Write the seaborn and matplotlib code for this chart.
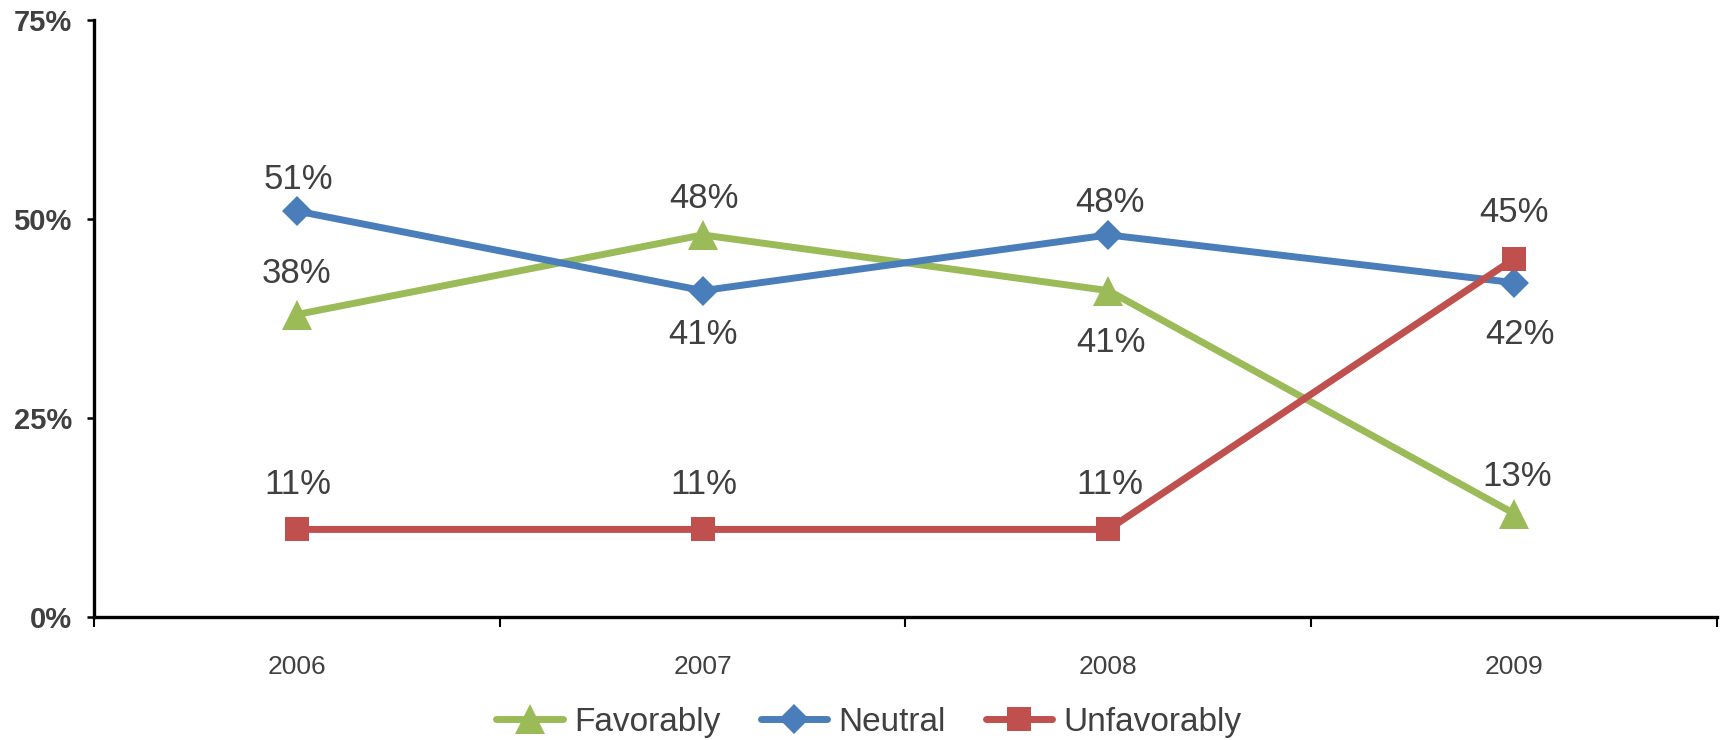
import matplotlib
matplotlib.use("Agg")
import matplotlib.pyplot as plt
from matplotlib import font_manager
from matplotlib.ticker import FixedLocator, FuncFormatter
import seaborn as sns
import pandas as pd

years = ["2006", "2007", "2008", "2009"]
favorably = [38, 48, 41, 13]
neutral = [51, 41, 48, 42]
unfavorably = [11, 11, 11, 45]
series_names = ["Favorably", "Neutral", "Unfavorably"]
y_ticks = [0, 25, 50, 75]

# value-label offsets from each point, in points (dx, dy)
label_offset = {
    "Favorably": [(0, 29.5), (1, 26.5), (2, -37.5), (2, 26.5)],
    "Neutral": [(1, 22.5), (0, -31.5), (1, 23), (4, -37.5)],
    "Unfavorably": [(1, 32.5), (1, 32.5), (1, 32.5), (0, 33.5)],
}

colors = {"Favorably": "#9BBB59", "Neutral": "#4A7EBB", "Unfavorably": "#C0504D"}
markers = {"Favorably": "^", "Neutral": "D", "Unfavorably": "s"}
sizes = {"Favorably": 21, "Neutral": 15, "Unfavorably": 17}
text_color = "#404040"
line_w = 5.0

sns.set_theme(style="white")
available = {f.name for f in font_manager.fontManager.ttflist}
base_font = "Liberation Sans" if "Liberation Sans" in available else "DejaVu Sans"
narrow_font = "Liberation Sans Narrow" if "Liberation Sans Narrow" in available else base_font
plt.rcParams["font.family"] = [base_font, "DejaVu Sans"]

df = pd.DataFrame({
    "x": list(range(len(years))) * 3,
    "value": favorably + neutral + unfavorably,
    "series": [s for s in series_names for _ in years],
})

fig = plt.figure(figsize=(17.24, 7.40), dpi=100)
ax = fig.add_axes([94 / 1724, 1 - 617 / 740, (1717 - 94) / 1724, (617 - 20) / 740])

sns.lineplot(
    data=df, x="x", y="value", hue="series", style="series",
    palette=colors, markers=markers, dashes=False, ax=ax,
    linewidth=line_w, legend="auto",
)
for data_line, name in zip(ax.get_lines()[:3], series_names):
    data_line.set_markersize(sizes[name])
    data_line.set_markeredgewidth(0)

# value labels
for name, vals in zip(series_names, [favorably, neutral, unfavorably]):
    for i, v in enumerate(vals):
        dx, dy = label_offset[name][i]
        ax.annotate(f"{v}%", (i, v), xytext=(dx, dy), textcoords="offset points",
                    ha="center", va="center", fontsize=25, color=text_color)

ax.set_xlim(-0.5, len(years) - 0.5)
ax.set_ylim(0, 75)
ax.set_xlabel("")
ax.set_ylabel("")

ax.yaxis.set_major_locator(FixedLocator(y_ticks))
ax.yaxis.set_major_formatter(FuncFormatter(lambda v, p: f"{int(v)}%"))
ax.tick_params(axis="y", which="major", left=True, length=5, width=1.8,
               color="black", pad=11, labelsize=21, labelcolor=text_color)
for t in ax.get_yticklabels():
    t.set_fontweight("bold")

ax.set_xticks(range(len(years)))
ax.set_xticklabels(years)
ax.set_xticks([i - 0.5 for i in range(len(years) + 1)], minor=True)
ax.tick_params(axis="x", which="major", bottom=True, length=0, pad=27,
               labelsize=19, labelcolor=text_color)
ax.tick_params(axis="x", which="minor", bottom=True, length=7, width=1.5,
               color="black", direction="out")

sns.despine(ax=ax)
for side in ("left", "bottom"):
    ax.spines[side].set_color("black")
    ax.spines[side].set_linewidth(2.4)

handles, labels = ax.get_legend_handles_labels()
ax.get_legend().remove()
for h in handles:
    h.set_linewidth(line_w)
    h.set_markeredgewidth(0)
    h.set_markersize(sizes.get(h.get_label(), 15))
leg = fig.legend(handles, labels, loc="center", bbox_to_anchor=(0.504, 0.024),
                 ncol=3, frameon=False, handlelength=2.0, handletextpad=0.33,
                 columnspacing=1.2, prop={"family": narrow_font, "size": 24})
for t in leg.get_texts():
    t.set_color(text_color)

fig.savefig("out.png", dpi=100, facecolor="white")
